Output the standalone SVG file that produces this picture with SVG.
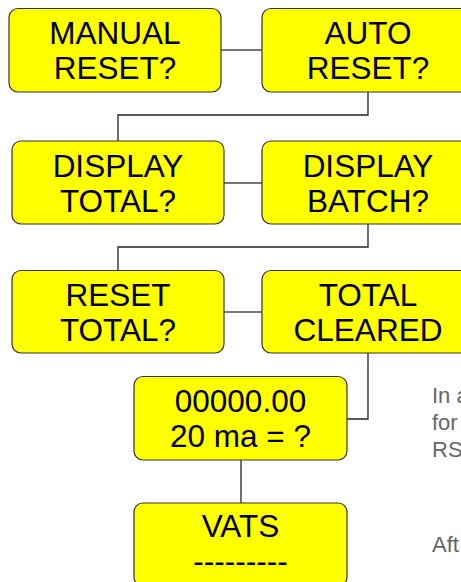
<svg xmlns="http://www.w3.org/2000/svg" width="461" height="582" viewBox="0 0 461 582">
<style>
.box{fill:#ffff00;stroke:#333333;stroke-width:1.2}
.t{font-family:"Liberation Sans",Arial,sans-serif;font-size:31.5px;fill:#000000;text-anchor:middle}
.n{font-family:"Liberation Sans",Arial,sans-serif;font-size:22px;fill:#666666}
.c{fill:none;stroke:#222222;stroke-width:1.3}
.h{fill:none;stroke:#777777;stroke-width:2}
</style>
<rect width="461" height="582" fill="#ffffff"/>
<g id="connectors">
<line class="h" x1="221" y1="50" x2="262" y2="50"/>
<polyline class="c" points="368,92 368,115 118,115 118,141"/>
<line class="h" x1="224" y1="183" x2="262" y2="183"/>
<polyline class="c" points="368,224 368,247 118,247 118,271"/>
<line class="h" x1="224" y1="312" x2="262" y2="312"/>
<polyline class="c" points="368,353 368,419 347,419"/>
<line class="c" x1="241" y1="460" x2="241" y2="503"/>
</g>
<g id="manual-reset">
<rect class="box" x="9" y="8.5" width="212" height="83.5" rx="9"/>
<text class="t" x="115" y="44">MANUAL</text>
<text class="t" x="115" y="79">RESET?</text>
</g>
<g id="auto-reset">
<rect class="box" x="262" y="8.5" width="212" height="83.5" rx="9"/>
<text class="t" x="368" y="44">AUTO</text>
<text class="t" x="368" y="79">RESET?</text>
</g>
<g id="display-total">
<rect class="box" x="12" y="141" width="212" height="83" rx="9"/>
<text class="t" x="118" y="177">DISPLAY</text>
<text class="t" x="118" y="212">TOTAL?</text>
</g>
<g id="display-batch">
<rect class="box" x="262" y="141" width="212" height="83" rx="9"/>
<text class="t" x="368" y="177">DISPLAY</text>
<text class="t" x="368" y="212">BATCH?</text>
</g>
<g id="reset-total">
<rect class="box" x="12" y="270.5" width="212" height="82.5" rx="9"/>
<text class="t" x="118" y="306">RESET</text>
<text class="t" x="118" y="341">TOTAL?</text>
</g>
<g id="total-cleared">
<rect class="box" x="262" y="270.5" width="212" height="82.5" rx="9"/>
<text class="t" x="368" y="306">TOTAL</text>
<text class="t" x="368" y="341">CLEARED</text>
</g>
<g id="ma-setting">
<rect class="box" x="134" y="376.5" width="213" height="83.5" rx="9"/>
<text class="t" x="240.5" y="412">00000.00</text>
<text class="t" x="240.5" y="447">20 ma = ?</text>
</g>
<g id="vats">
<rect class="box" x="134" y="503" width="213" height="83" rx="9"/>
<text class="t" x="240.5" y="537">VATS</text>
<text class="t" x="240.5" y="572">---------</text>
</g>
<g id="notes">
<text class="n" x="432" y="403">In a</text>
<text class="n" x="432" y="430">for</text>
<text class="n" x="432" y="457">RS</text>
<text class="n" x="432" y="552">Aft</text>
</g>
</svg>
